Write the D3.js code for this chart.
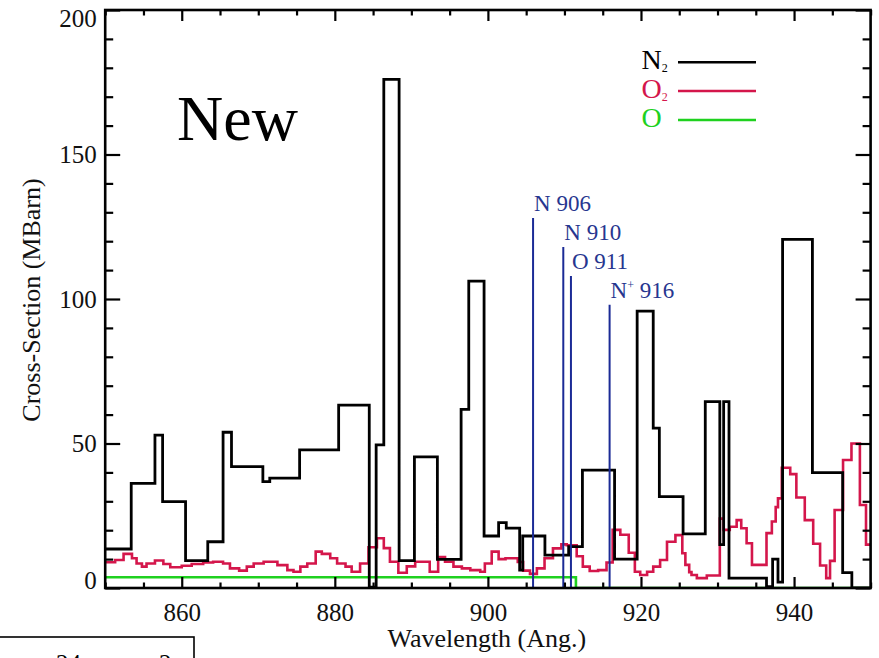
<!DOCTYPE html>
<html>
<head>
<meta charset="utf-8">
<script src="https://cdn.jsdelivr.net/npm/d3@7"></script>
<style>
  body { margin: 0; background: #fff; }
  svg { display: block; }
  text { font-family: "Liberation Serif", "Times New Roman", Times, serif; }
</style>
</head>
<body>
<svg id="chart" width="879" height="658"></svg>
<script>
// Photoionisation cross-sections, binned (bin start wavelength in Å, value in MBarn)
const n2BinStart = [850.0, 853.4, 856.5, 857.5, 860.5, 863.4, 865.4, 866.5, 870.6, 871.5,
  875.4, 880.5, 884.5, 885.4, 886.4, 888.4, 890.4, 893.4,
  896.5, 897.5, 899.5, 901.4, 902.4, 904.15, 904.55, 907.45, 910.55, 912.35,
  916.55, 919.5, 921.6, 922.4, 925.5, 928.4, 930.3, 930.8, 931.5, 936.4,
  937.2, 937.9, 938.5, 942.4, 946.35, 947.55];
const n2Value = [13.5, 36.2, 52.9, 29.9, 9.5, 16, 53.9, 42, 36.8, 38,
  47.8, 63.3, 0.3, 49.5, 176, 9.5, 45.4, 9.9,
  61.8, 106.2, 18, 22.6, 20.7, 6.2, 18, 11.4, 14.3, 40.8,
  10, 95.8, 55.3, 31.6, 18.7, 64.5, 15, 64.5, 3.4, 0.5,
  10, 2, 120.6, 39.9, 5.3, 0];

const o2BinStart = [850.0, 851.3, 852.4, 853.5, 854.1, 854.8, 855.4, 856.5, 857.6, 858.5,
  860.0, 861.3, 862.8, 864.1, 865.4, 866.3, 867.5, 868.5, 869.4, 870.7,
  872.5, 873.8, 874.6, 875.5, 876.4, 877.5, 878.3, 879.4, 880.3, 881.4,
  882.2, 883.3, 884.4, 885.5, 886.4, 887.2, 888.3, 889.4, 890.5, 892.4,
  893.5, 894.4, 895.5, 896.6, 897.7, 899.0, 899.6, 900.5, 901.4, 902.3,
  903.9, 904.6, 905.5, 906.4, 907.4, 908.5, 909.6, 910.3, 911.6, 912.4,
  913.3, 914.4, 915.5, 916.3, 917.3, 918.4, 919.2, 919.9, 920.8, 921.6,
  922.5, 923.4, 924.5, 925.4, 925.8, 926.3, 926.6, 927.3, 928.6, 930.3,
  930.8, 931.6, 932.5, 933.1, 933.8, 934.5, 936.4, 937.1, 937.6, 937.9,
  938.4, 939.5, 940.3, 941.4, 942.5, 943.4, 944.2, 944.7, 945.3, 946.4,
  947.5, 948.6, 949.4];
const o2Value = [8.9, 9.7, 11.8, 10.3, 8.5, 7.4, 8.5, 9.5, 8.3, 7.2,
  7.7, 8.3, 8.8, 9.1, 8.5, 6.8, 6.0, 7.4, 8.5, 9.1,
  7.9, 6.2, 5.6, 7.4, 8.5, 12.6, 11.8, 10.3, 8.5, 7.4,
  5.6, 8.5, 14.1, 17.2, 13.8, 9.1, 5.3, 7.5, 9.1, 5.6,
  10.7, 9.1, 7.4, 6.8, 6.2, 5.6, 8.5, 12.6, 10.0, 10.3,
  9.0, 6.0, 4.9, 6.8, 10.3, 13.7, 15.1, 14.8, 11.0, 7.4,
  5.9, 6.2, 8.8, 20.1, 18.4, 12.2, 5.6, 4.5, 5.6, 7.4,
  9.7, 16.0, 18.3, 12.0, 8.0, 5.5, 4.5, 3.4, 4.3, 24.0,
  20.1, 21.2, 23.5, 20.7, 15.5, 8.0, 19.0, 23.0, 28.0, 31.0,
  41.6, 39.4, 31.3, 23.5, 15.3, 7.8, 3.4, 9.4, 27.0, 44.3,
  50.0, 28.7, 15.0];

const oBinStart = [850.0, 911.5];
const oValue = [3.7, 0];

const rangeEnd = 950;

// Emission lines marked on the plot
const lineWavelength = [905.9, 909.85, 910.85, 915.9];
const lineTop = [128, 118, 108, 98];
const lineIon = ["N", "N", "O", "N"];
const lineCharge = ["", "", "", "+"];
const lineLabelNumber = ["906", "910", "911", "916"];

const xMajorTicks = [860, 880, 900, 920, 940];
const yMajorTicks = [0, 50, 100, 150, 200];

const legendSpecies = ["N", "O", "O"];
const legendSub = ["2", "2", ""];
const seriesColor = ["#000000", "#d4164b", "#1fd11f"];

const svg = d3.select("#chart");
const pLeft = 105.2, pRight = 870.6, pTop = 10, pBottom = 588;

const x = d3.scaleLinear().domain([850, 950]).range([pLeft, pRight]);
const y = d3.scaleLinear().domain([0, 200]).range([pBottom, pTop]);

const xMinorTicks = d3.range(850, 951, 5).filter(v => !xMajorTicks.includes(v));
const yMinorTicks = d3.range(0, 201, 10).filter(v => !yMajorTicks.includes(v));

const clipId = "plotClip";
svg.append("defs").append("clipPath").attr("id", clipId)
  .append("rect").attr("x", pLeft).attr("y", pTop).attr("width", pRight - pLeft).attr("height", pBottom - pTop);

function stepPoints(starts, values) {
  const pts = starts.map((s, i) => [s, values[i]]);
  pts.push([rangeEnd, values[values.length - 1]]);
  return pts;
}

const stepLine = d3.line()
  .x(d => x(d[0]))
  .y(d => y(d[1]))
  .curve(d3.curveStepAfter);

const plot = svg.append("g").attr("clip-path", `url(#${clipId})`);

// O (green), O2 (red), N2 (black)
plot.append("path")
  .attr("d", stepLine(stepPoints(oBinStart, oValue)))
  .attr("fill", "none").attr("stroke", seriesColor[2]).attr("stroke-width", 2.6);

plot.append("path")
  .attr("d", stepLine(stepPoints(o2BinStart, o2Value)))
  .attr("fill", "none").attr("stroke", seriesColor[1]).attr("stroke-width", 2.6)
  .attr("stroke-linejoin", "miter");

plot.append("path")
  .attr("d", stepLine(stepPoints(n2BinStart, n2Value)))
  .attr("fill", "none").attr("stroke", seriesColor[0]).attr("stroke-width", 2.8)
  .attr("stroke-linejoin", "miter");

// Line markers
const blue = "#1b2b96";
const markers = svg.append("g");
lineWavelength.forEach((wl, i) => {
  markers.append("line")
    .attr("x1", x(wl)).attr("x2", x(wl))
    .attr("y1", y(lineTop[i])).attr("y2", y(0))
    .attr("stroke", blue).attr("stroke-width", 2);
  const t = markers.append("text")
    .attr("x", x(wl) + 1)
    .attr("y", y(lineTop[i]) - 7)
    .attr("fill", "#27368f")
    .attr("font-size", 23);
  t.append("tspan").text(lineIon[i]);
  if (lineCharge[i]) {
    t.append("tspan").attr("font-size", 12).attr("dy", -9).text(lineCharge[i]);
    t.append("tspan").attr("dy", 9).text(" " + lineLabelNumber[i]);
  } else {
    t.append("tspan").text(" " + lineLabelNumber[i]);
  }
});

// Axes: ticks point inward on all four sides
const axisFont = 25;
const gx = svg.append("g").attr("transform", `translate(0,${pBottom})`)
  .call(d3.axisBottom(x).tickValues(xMajorTicks).tickSizeInner(-11).tickSizeOuter(0).tickPadding(15).tickFormat(d3.format("d")));
const gxm = svg.append("g").attr("transform", `translate(0,${pBottom})`)
  .call(d3.axisBottom(x).tickValues(xMinorTicks).tickSizeInner(-5.5).tickSizeOuter(0).tickFormat(""));
const gxt = svg.append("g").attr("transform", `translate(0,${pTop})`)
  .call(d3.axisTop(x).tickValues(xMajorTicks).tickSizeInner(-11).tickSizeOuter(0).tickFormat(""));
const gxtm = svg.append("g").attr("transform", `translate(0,${pTop})`)
  .call(d3.axisTop(x).tickValues(xMinorTicks).tickSizeInner(-5.5).tickSizeOuter(0).tickFormat(""));

const gy = svg.append("g").attr("transform", `translate(${pLeft},0)`)
  .call(d3.axisLeft(y).tickValues(yMajorTicks).tickSizeInner(-15).tickSizeOuter(0).tickPadding(8.5).tickFormat(d3.format("d")));
const gym = svg.append("g").attr("transform", `translate(${pLeft},0)`)
  .call(d3.axisLeft(y).tickValues(yMinorTicks).tickSizeInner(-8).tickSizeOuter(0).tickFormat(""));
const gyr = svg.append("g").attr("transform", `translate(${pRight},0)`)
  .call(d3.axisRight(y).tickValues(yMajorTicks).tickSizeInner(-15).tickSizeOuter(0).tickFormat(""));
const gyrm = svg.append("g").attr("transform", `translate(${pRight},0)`)
  .call(d3.axisRight(y).tickValues(yMinorTicks).tickSizeInner(-8).tickSizeOuter(0).tickFormat(""));

[gx, gxm, gxt, gxtm, gy, gym, gyr, gyrm].forEach(g => {
  g.select(".domain").remove();
  g.selectAll(".tick line").attr("stroke", "#000").attr("stroke-width", 2.2);
  g.selectAll(".tick text")
    .attr("fill", "#111")
    .style("font-family", '"Liberation Serif", "Times New Roman", serif')
    .attr("font-size", axisFont);
});
// End labels of the y axis sit inside the frame
gy.selectAll(".tick text").attr("dy", d => d === 0 ? "0.0em" : d === 200 ? "0.64em" : "0.32em");

// Frame
svg.append("rect")
  .attr("x", pLeft).attr("y", pTop).attr("width", pRight - pLeft).attr("height", pBottom - pTop)
  .attr("fill", "none").attr("stroke", "#000").attr("stroke-width", 2.6);

// Axis titles
svg.append("text")
  .attr("x", (pLeft + pRight) / 2 - 1).attr("y", 647)
  .attr("text-anchor", "middle").attr("font-size", 26).attr("fill", "#111")
  .text("Wavelength (Ang.)");

svg.append("text")
  .attr("transform", `translate(40,${(pTop + pBottom) / 2 + 1}) rotate(-90)`)
  .attr("text-anchor", "middle").attr("font-size", 26).attr("fill", "#111")
  .text("Cross-Section (MBarn)");

// Panel tag
svg.append("text")
  .attr("x", 177).attr("y", 140)
  .attr("font-size", 64).attr("fill", "#000")
  .text("New");

// Legend
const legendY = [62.3, 91, 120];
legendSpecies.forEach((s, i) => {
  const t = svg.append("text")
    .attr("x", 641.5).attr("y", legendY[i] + 6.5)
    .attr("font-size", 28).attr("fill", seriesColor[i]);
  t.append("tspan").text(s);
  if (legendSub[i]) t.append("tspan").attr("font-size", 12).attr("dy", 3).text(legendSub[i]);
  svg.append("line")
    .attr("x1", 678).attr("x2", 756)
    .attr("y1", legendY[i]).attr("y2", legendY[i])
    .attr("stroke", seriesColor[i]).attr("stroke-width", 2.6);
});

// Box along the lower-left edge
svg.append("rect")
  .attr("x", -2).attr("y", 637).attr("width", 196).attr("height", 40)
  .attr("fill", "#fff").attr("stroke", "#000").attr("stroke-width", 1.6);
svg.append("text").attr("x", 56).attr("y", 672).attr("font-size", 25).attr("fill", "#000").text("24");
svg.append("text").attr("x", 159).attr("y", 672).attr("font-size", 25).attr("fill", "#000").text("2");
</script>
</body>
</html>
